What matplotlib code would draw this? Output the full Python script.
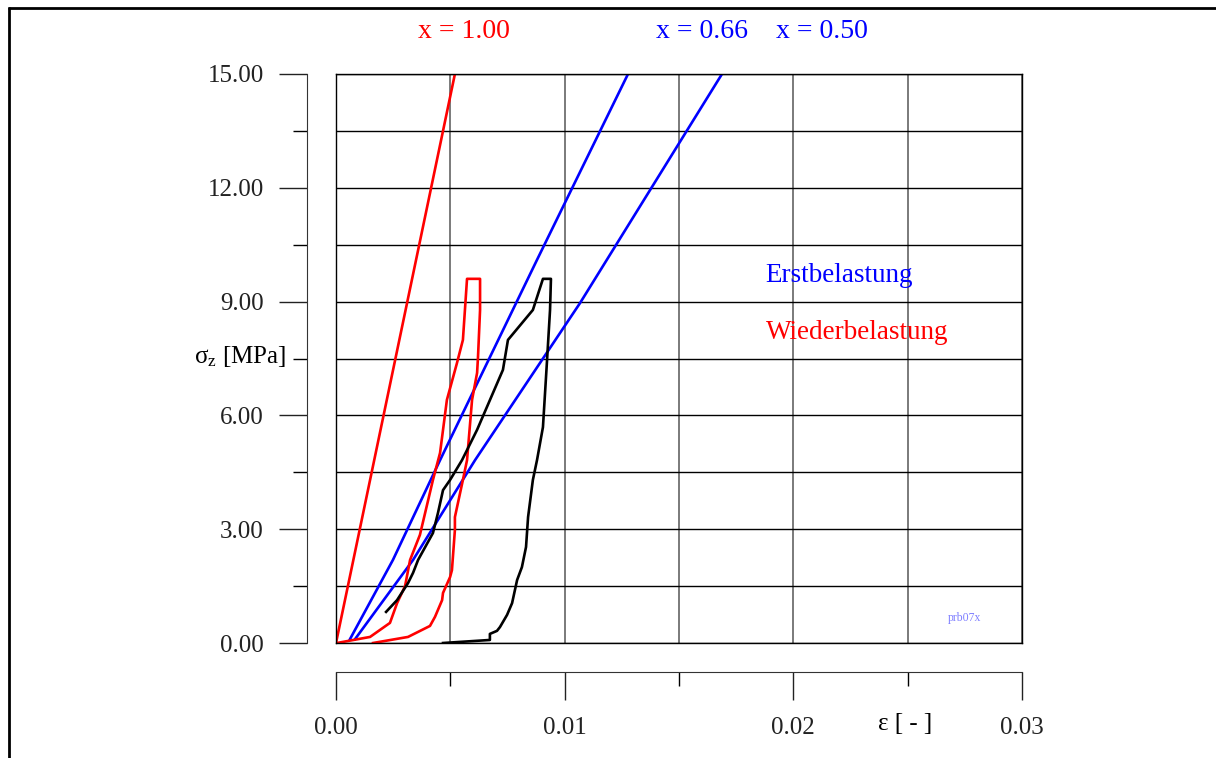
import matplotlib
matplotlib.use("Agg")
import matplotlib.pyplot as plt
from matplotlib.lines import Line2D
from matplotlib.ticker import MultipleLocator

plt.rcParams['font.family'] = ['Liberation Serif', 'DejaVu Serif']
plt.rcParams['mathtext.fontset'] = 'custom'
plt.rcParams['mathtext.rm'] = 'Liberation Serif'
plt.rcParams['mathtext.it'] = 'Liberation Serif'

# Wiederbelastung x = 1.00 (straight)
eps_red_line = [0.0, 0.0052]
sig_red_line = [0.0, 15.0]

# Erstbelastung x = 0.66
eps_b066 = [0.00061, 0.00249, 0.00455, 0.00879, 0.01277]
sig_b066 = [0.10, 2.19, 4.82, 10.10, 15.0]

# Erstbelastung x = 0.50
eps_b050 = [0.00083, 0.00337, 0.00608, 0.01067, 0.01688]
sig_b050 = [0.10, 2.19, 4.82, 8.96, 15.0]

# measured reload loop (red)
eps_red_loop = [0.00004, 0.00149, 0.00236, 0.00267, 0.00302, 0.00324, 0.00367,
                0.00424, 0.00455, 0.00485, 0.00529, 0.00555, 0.00573, 0.00630,
                0.00630, 0.00621, 0.00617, 0.00595, 0.00573, 0.00555, 0.00520,
                0.00520, 0.00507, 0.00499, 0.00468, 0.00464, 0.00433, 0.00411,
                0.00315, 0.00162]
sig_red_loop = [0.0, 0.16, 0.53, 1.05, 1.50, 2.19, 2.85,
                4.30, 5.01, 6.41, 7.38, 7.99, 9.6, 9.6,
                8.78, 7.54, 7.12, 6.41, 4.82, 4.30, 3.32,
                2.98, 1.92, 1.74, 1.32, 1.13, 0.69, 0.45,
                0.16, 0.0]

# measured first loading loop (black)
eps_black = [0.00219, 0.00267, 0.00315, 0.00337, 0.00359, 0.00424, 0.00446,
             0.00468, 0.00499, 0.00551, 0.00617, 0.00730, 0.00752, 0.00861,
             0.00905, 0.00940, 0.00936, 0.00923, 0.00905, 0.00879, 0.00861,
             0.00840, 0.00831, 0.00813, 0.00792, 0.00770, 0.00748, 0.00717,
             0.00704, 0.00673, 0.00673, 0.00468]
sig_black = [0.82, 1.13, 1.58, 1.85, 2.19, 2.90, 3.43,
             4.03, 4.30, 4.82, 5.62, 7.20, 7.99, 8.78,
             9.6, 9.6, 8.78, 7.46, 5.69, 4.82, 4.30,
             3.32, 2.53, 2.00, 1.66, 1.05, 0.74, 0.42,
             0.32, 0.24, 0.08, 0.0]

fig = plt.figure(figsize=(12.16, 7.58), dpi=100)
pos = [336 / 1216, 1 - 643 / 758, 686 / 1216, 569 / 758]

ax = fig.add_axes(pos)
ax.set_xlim(0, 0.03)
ax.set_ylim(0, 15)
ax.xaxis.set_major_locator(MultipleLocator(0.005))
ax.yaxis.set_major_locator(MultipleLocator(1.5))
ax.tick_params(left=False, bottom=False, labelleft=False, labelbottom=False)
ax.grid(axis='x', color='#707070', lw=1.3)
ax.grid(axis='y', color='black', lw=1.0)
for s in ax.spines.values():
    s.set_linewidth(1.0)

ax.plot(eps_red_line, sig_red_line, color='red', lw=1.9)
ax.plot(eps_b066, sig_b066, color='blue', lw=1.9)
ax.plot(eps_b050, sig_b050, color='blue', lw=1.9)
ax.plot(eps_red_loop, sig_red_loop, color='red', lw=1.9)
ax.plot(eps_black, sig_black, color='black', lw=1.9)

# detached axes for the tick scales
ax2 = fig.add_axes(pos, frameon=True)
ax2.patch.set_alpha(0)
ax2.set_xlim(0, 0.03)
ax2.set_ylim(0, 15)
ax2.spines['top'].set_visible(False)
ax2.spines['right'].set_visible(False)
ax2.spines['left'].set_position(('outward', 21))
ax2.spines['bottom'].set_position(('outward', 21))
ax2.spines['left'].set_color('#333333')
ax2.spines['bottom'].set_color('#333333')
ax2.xaxis.set_major_locator(MultipleLocator(0.01))
ax2.xaxis.set_minor_locator(MultipleLocator(0.005))
ax2.yaxis.set_major_locator(MultipleLocator(3))
ax2.yaxis.set_minor_locator(MultipleLocator(1.5))
ax2.xaxis.set_major_formatter(lambda v, p: f"{v:.2f}")
ax2.yaxis.set_major_formatter(lambda v, p: f"{v:.2f}")
ax2.tick_params(which='major', length=20, width=1, direction='out',
                labelsize=18, colors='#222222')
ax2.tick_params(which='minor', length=10, width=1, direction='out')
ax2.tick_params(axis='y', which='major', pad=11)
ax2.tick_params(axis='x', which='major', pad=12)

fig.text(240 / 1216, 1 - 357 / 758, r"σ$_{\mathrm{z}}$ [MPa]", fontsize=18,
         ha='center', va='center')
fig.text(905 / 1216, 1 - 724 / 758, "ε [ - ]", fontsize=18,
         ha='center', va='center')

fig.text(464 / 1216, 1 - 31 / 758, "x = 1.00", color='red', fontsize=20,
         ha='center', va='center')
fig.text(702 / 1216, 1 - 31 / 758, "x = 0.66", color='blue', fontsize=20,
         ha='center', va='center')
fig.text(822 / 1216, 1 - 31 / 758, "x = 0.50", color='blue', fontsize=20,
         ha='center', va='center')
fig.text(765 / 1216, 1 - 275 / 758, "Erstbelastung", color='blue', fontsize=19.5,
         ha='left', va='center')
fig.text(766 / 1216, 1 - 333 / 758, "Wiederbelastung", color='red', fontsize=19.5,
         ha='left', va='center')
fig.text(965 / 1216, 1 - 618 / 758, "prb07x", color='#7f7fff', fontsize=8.5,
         ha='center', va='center')

# outer frame (top and left only)
fig.add_artist(Line2D([8 / 1216, 1], [1 - 7.5 / 758, 1 - 7.5 / 758],
                      transform=fig.transFigure, color='black', lw=2,
                      solid_capstyle='butt'))
fig.add_artist(Line2D([8.5 / 1216, 8.5 / 1216], [0, 1 - 7 / 758],
                      transform=fig.transFigure, color='black', lw=2,
                      solid_capstyle='butt'))

fig.savefig("out.png", dpi=100)
